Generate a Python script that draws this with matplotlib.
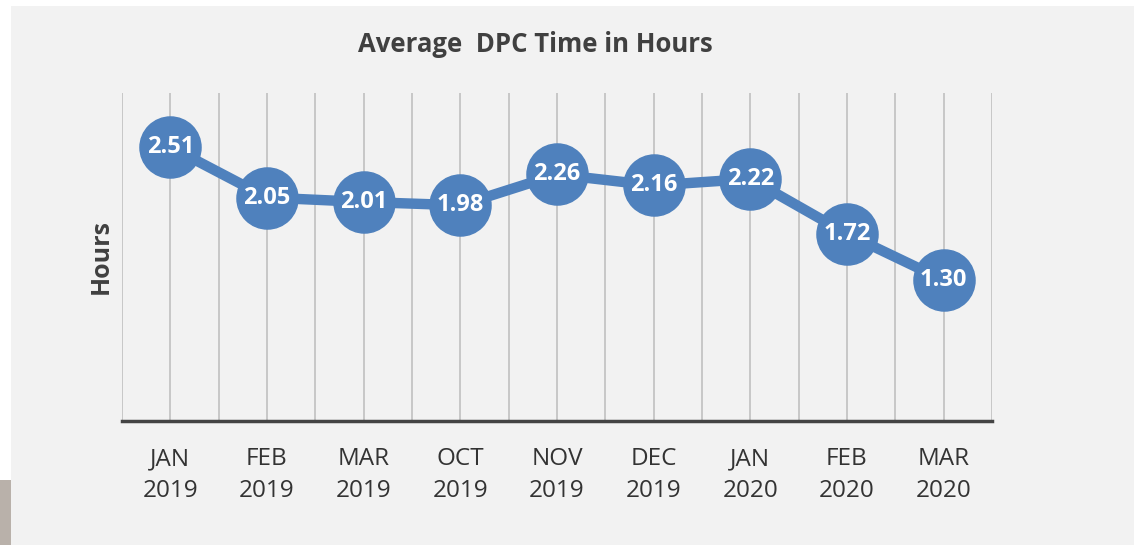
import numpy as np
import matplotlib
matplotlib.use("Agg")
import matplotlib.pyplot as plt
from matplotlib.patches import Rectangle

months = ["JAN\n2019", "FEB\n2019", "MAR\n2019", "OCT\n2019", "NOV\n2019",
          "DEC\n2019", "JAN\n2020", "FEB\n2020", "MAR\n2020"]
values = [2.51, 2.05, 2.01, 1.98, 2.26, 2.16, 2.22, 1.72, 1.30]
title = "Average  DPC Time in Hours"
ylabel = "Hours"

plt.rcParams['font.family'] = ['Open Sans', 'DejaVu Sans']

W, H = 1134, 545
fig = plt.figure(figsize=(W / 100, H / 100), dpi=100)
fig.patch.set_facecolor("white")
# gray panel
fig.patches.append(Rectangle((11 / W, 0), 1 - 11 / W, 1 - 6 / H, transform=fig.transFigure,
                             facecolor="#f2f2f2", edgecolor="none", zorder=-5))
fig.patches.append(Rectangle((0, 0), 11 / W, 65 / H, transform=fig.transFigure,
                             facecolor="#b9b1aa", edgecolor="none", zorder=-5))

ax = fig.add_axes([122 / W, 1 - 421 / H, (992 - 122) / W, (421 - 93) / H])
ax.set_facecolor("none")
ax.set_zorder(1)

x = np.arange(len(values))
ax.set_xlim(-0.5, len(values) - 0.5)
ax.set_ylim(0.02, 3.0)

# vertical gridlines at every category and between categories
ax.set_xticks(x)
ax.set_xticks(np.arange(-0.5, len(values), 0.5), minor=True)
ax.grid(True, which="both", axis="x", color="#c4c4c4", linewidth=1.3)
ax.tick_params(axis="x", which="both", length=0)
ax.set_xticklabels(months, fontsize=17.5, color="#333333", linespacing=1.4)
ax.tick_params(axis="x", pad=19)
ax.set_yticks([])

for s in ["left", "right", "top"]:
    ax.spines[s].set_visible(False)
ax.spines["bottom"].set_color("#444444")
ax.spines["bottom"].set_linewidth(2.5)

color = "#4f81bd"
ax.plot(x, values, color=color, linewidth=7.5, marker="o", markersize=44,
        markerfacecolor=color, markeredgecolor=color, zorder=3, clip_on=False)
for xi, v in zip(x, values):
    ax.text(xi, v, f"{v:.2f}", ha="center", va="center", color="white",
            fontsize=17, fontweight="bold", zorder=4)

fig.text(535 / W, 1 - 45 / H, title, ha="center", va="center", fontsize=18.5,
         fontweight="bold", color="#404040")
fig.text(101 / W, 1 - 257 / H, ylabel, ha="center", va="center", rotation=90,
         fontsize=18, fontweight="bold", color="#404040")

fig.savefig("out.png", dpi=100)
